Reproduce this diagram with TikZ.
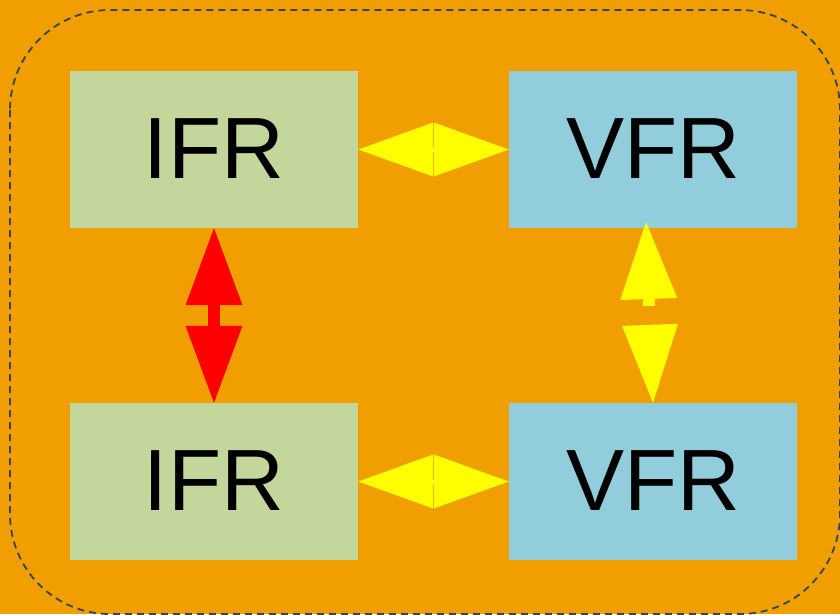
\documentclass[tikz,border=0pt]{standalone}
\usepackage{fontspec}
\setmainfont{Liberation Sans}
\usetikzlibrary{arrows.meta}
\definecolor{bgorange}{HTML}{F19E00}
\definecolor{ifrgreen}{HTML}{C3D69B}
\definecolor{vfrblue}{HTML}{92CDDC}
\definecolor{framegray}{HTML}{34465A}
\definecolor{linkyellow}{HTML}{FFFF00}
\definecolor{linkred}{HTML}{FF0000}
\begin{document}
\begin{tikzpicture}[x=1pt, y=-1pt,
  box/.style={minimum width=288pt, minimum height=157pt, inner sep=0pt, font=\fontsize{87}{100}\selectfont},
  ifrbox/.style={box, fill=ifrgreen},
  vfrbox/.style={box, fill=vfrblue}]
\fill[bgorange] (0,0) rectangle (840,614);
\useasboundingbox (0,0) rectangle (840,614);
\draw[framegray, line width=1.8pt, dash pattern=on 7pt off 5pt, rounded corners=100pt] (10,10) rectangle (840,614);
\node[ifrbox] (ifrA) at (214,149.5) {\raisebox{2pt}{IFR}};
\node[vfrbox] (vfrA) at (653,149.5) {\raisebox{2pt}{VFR}};
\node[ifrbox] (ifrB) at (214,481.5) {\raisebox{2pt}{IFR}};
\node[vfrbox] (vfrB) at (653,481.5) {\raisebox{2pt}{VFR}};
\draw[linkyellow, line width=4pt, {Triangle[length=75pt, width=54pt, line width=0pt]}-{Triangle[length=75pt, width=54pt, line width=0pt]}] (ifrA.east) -- (vfrA.west);
\draw[linkyellow, line width=4pt, {Triangle[length=75pt, width=54pt, line width=0pt]}-{Triangle[length=75pt, width=54pt, line width=0pt]}] (ifrB.east) -- (vfrB.west);
\draw[linkred, line width=12pt, {Triangle[length=77pt, width=57pt, line width=0pt]}-{Triangle[length=77pt, width=57pt, line width=0pt]}] (ifrA.south) -- (ifrB.north);
\coordinate (gapTop) at (649,306);
\coordinate (gapBot) at (650,325);
\coordinate (tipTop) at (646,222);
\draw[linkyellow, line width=12pt, -{Triangle[length=77pt, width=57pt, line width=0pt]}] (gapTop) -- (tipTop);
\draw[linkyellow, line width=12pt, -{Triangle[length=78pt, width=56pt, line width=0pt]}] (gapBot) -- (vfrB.north);
\end{tikzpicture}
\end{document}
